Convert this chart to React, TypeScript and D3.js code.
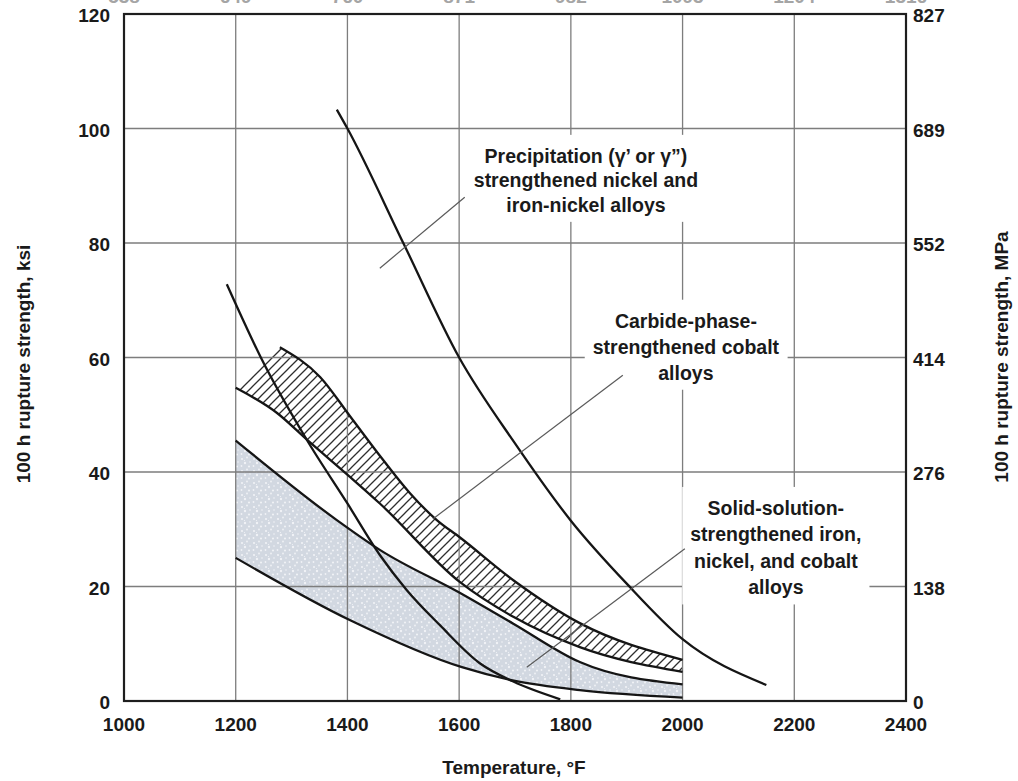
import React, { useEffect, useRef } from 'react';
import * as d3 from 'd3';

type Pt = [number, number];

// Temperature (°F) ticks, strength (ksi) ticks, MPa equivalents, °C equivalents (cut off at top)
const xTicks = [1000, 1200, 1400, 1600, 1800, 2000, 2200, 2400];
const yTicks = [0, 20, 40, 60, 80, 100, 120];
const mpaLabels = ['0', '138', '276', '414', '552', '689', '827'];
const celsiusLabels = ['538', '649', '760', '871', '982', '1093', '1204', '1316'];

// Curves: [°F, ksi]
const precipitationCurve: Pt[] = [[1381, 103.3], [1400, 100], [1500, 80], [1600, 60], [1700, 45], [1800, 31.5], [1900, 20.5], [2000, 10.8], [2150, 2.8]];
const steepCurve: Pt[] = [[1184, 72.8], [1245, 60], [1328, 45.5], [1400, 34.5], [1458, 25.5], [1506, 19.4], [1566, 13.2], [1637, 6.6], [1697, 3.4], [1781, 0.3]];
const carbideUpper: Pt[] = [[1279, 61.8], [1351, 56.6], [1405, 49.7], [1464, 42.1], [1512, 36.3], [1560, 31.6], [1601, 28.6], [1697, 21.1], [1816, 13.6], [2000, 7.2]];
const carbideLower: Pt[] = [[1200, 54.7], [1274, 50.3], [1328, 45.6], [1405, 39.1], [1458, 34.5], [1601, 20.8], [1697, 14.7], [1816, 9.4], [2000, 5.1]];
const solidUpper: Pt[] = [[1200, 45.5], [1381, 31.6], [1458, 26.4], [1601, 18.9], [1697, 13.5], [1816, 6.8], [2000, 2.9]];
const solidLower: Pt[] = [[1200, 25], [1405, 14.1], [1605, 5.9], [1700, 3.5], [1816, 1.9], [2000, 0.6]];

// Annotations: text lines with anchor (°F, ksi of first baseline) and leader lines
const precipitationText = ['Precipitation (\u03B3\u2019 or \u03B3\u201D)', 'strengthened nickel and', 'iron-nickel alloys'];
const carbideText = ['Carbide-phase-', 'strengthened cobalt', 'alloys'];
const solidText = ['Solid-solution-', 'strengthened iron,', 'nickel, and cobalt', 'alloys'];
const labelAnchors: Pt[] = [[1827, 94.0], [2006, 65.2], [2167, 32.5]];
const leaders: [Pt, Pt][] = [
  [[1610, 88], [1458, 75.6]],
  [[1893, 56.9], [1553, 31.8]],
  [[2004, 26.6], [1721, 5.9]],
];

export default function App() {
  const ref = useRef<SVGSVGElement>(null);

  useEffect(() => {
    const svg = d3.select(ref.current);
    svg.selectAll('*').remove();

    const x = d3.scaleLinear().domain([1000, 2400]).range([124, 906]);
    const y = d3.scaleLinear().domain([0, 120]).range([701, 14]);
    const font = "'Liberation Sans', Arial, Helvetica, sans-serif";

    const defs = svg.append('defs');
    const hatch = defs.append('pattern').attr('id', 'hatch')
      .attr('patternUnits', 'userSpaceOnUse').attr('width', 9).attr('height', 9);
    hatch.append('path').attr('d', 'M0,9 L9,0 M-3,3 L3,-3 M6,12 L12,6')
      .attr('stroke', '#2e2e2e').attr('stroke-width', 1.3).attr('fill', 'none');

    const stip = defs.append('pattern').attr('id', 'stipple')
      .attr('patternUnits', 'userSpaceOnUse').attr('width', 12).attr('height', 12);
    stip.append('rect').attr('width', 12).attr('height', 12).attr('fill', '#d2d8e1');
    const dots: [number, number, number][] = [[2, 3, 1.1], [7, 1.5, 0.9], [5, 7, 1.2], [10, 6, 0.8], [1.5, 10, 0.9], [9, 10.5, 1.1], [4.5, 4.5, 0.6]];
    dots.forEach(([cx, cy, r]) => stip.append('circle').attr('cx', cx).attr('cy', cy).attr('r', r).attr('fill', '#f0f2f6'));

    const line = d3.line<Pt>().x(d => x(d[0])).y(d => y(d[1])).curve(d3.curveMonotoneX);
    const rev = (pts: Pt[]) => (line(pts.slice().reverse()) as string).replace(/^M/, 'L');

    // Stippled region
    svg.append('path')
      .attr('d', (line(solidUpper) as string) + rev(solidLower) + 'Z')
      .attr('fill', 'url(#stipple)');

    // Hatched region
    svg.append('path')
      .attr('d', `M${x(carbideLower[0][0])},${y(carbideLower[0][1])}` + (line(carbideUpper) as string).replace(/^M/, 'L') + rev(carbideLower) + 'Z')
      .attr('fill', 'url(#hatch)');

    // Grid
    const grid = svg.append('g').attr('stroke', '#7d7d7d').attr('stroke-width', 1.3);
    xTicks.slice(1, -1).forEach(t => grid.append('line')
      .attr('x1', x(t)).attr('x2', x(t)).attr('y1', y(0)).attr('y2', y(120)));
    yTicks.slice(1, -1).forEach(t => grid.append('line')
      .attr('x1', x(1000)).attr('x2', x(2400)).attr('y1', y(t)).attr('y2', y(t)));

    // Text blocks with white masks
    const blocks = [precipitationText, carbideText, solidText];
    const spacing = [24.5, 26, 26.5];
    const maskLayer = svg.append('g');
    const curveLayer = svg.append('g');
    const textLayer = svg.append('g');

    [precipitationCurve, steepCurve, carbideUpper, carbideLower, solidUpper, solidLower].forEach(c => {
      curveLayer.append('path').attr('d', line(c) as string)
        .attr('fill', 'none').attr('stroke', '#151515').attr('stroke-width', 2.3);
    });

    leaders.forEach(([a, b]) => {
      curveLayer.append('line')
        .attr('x1', x(a[0])).attr('y1', y(a[1])).attr('x2', x(b[0])).attr('y2', y(b[1]))
        .attr('stroke', '#5a5a5a').attr('stroke-width', 1.2);
    });

    blocks.forEach((lines, i) => {
      const [fx, ky] = labelAnchors[i];
      const t = textLayer.append('text')
        .attr('x', x(fx)).attr('y', y(ky))
        .attr('text-anchor', 'middle')
        .attr('font-family', font).attr('font-size', 19.5).attr('font-weight', 'bold')
        .attr('fill', '#1a1a1a');
      lines.forEach((s, j) => t.append('tspan').attr('x', x(fx)).attr('dy', j === 0 ? 0 : spacing[i]).text(s));
      const bb = (t.node() as SVGTextElement).getBBox();
      maskLayer.append('rect')
        .attr('x', bb.x - 8).attr('y', bb.y - 10).attr('width', bb.width + 16).attr('height', bb.height + 16)
        .attr('fill', '#fff');
    });

    // Frame
    svg.append('rect').attr('x', x(1000)).attr('y', y(120))
      .attr('width', x(2400) - x(1000)).attr('height', y(0) - y(120))
      .attr('fill', 'none').attr('stroke', '#1e1e1e').attr('stroke-width', 2.2);

    const labelStyle = (sel: any) => sel.attr('font-family', font).attr('font-size', 19).attr('font-weight', 'bold').attr('fill', '#1a1a1a');

    // Left ticks
    yTicks.forEach(t => labelStyle(svg.append('text')
      .attr('x', 110).attr('y', y(t) + 3).attr('text-anchor', 'end').attr('dominant-baseline', 'middle').text(String(t))));
    // Right ticks (MPa)
    yTicks.forEach((t, i) => labelStyle(svg.append('text')
      .attr('x', 913).attr('y', y(t) + 3).attr('text-anchor', 'start').attr('dominant-baseline', 'middle').text(mpaLabels[i])));
    // Bottom ticks
    xTicks.forEach(t => labelStyle(svg.append('text')
      .attr('x', x(t)).attr('y', 731).attr('text-anchor', 'middle').text(String(t))));
    // Top ticks (°C), cut off at the top edge as in the scanned original
    xTicks.forEach((t, i) => labelStyle(svg.append('text')
      .attr('x', x(t)).attr('y', 3).attr('text-anchor', 'middle').text(celsiusLabels[i])).attr('fill', '#a5a5a5'));

    // Axis titles
    labelStyle(svg.append('text').attr('transform', 'translate(30,364) rotate(-90)')
      .attr('text-anchor', 'middle').text('100 h rupture strength, ksi'));
    labelStyle(svg.append('text').attr('transform', 'translate(1008,357) rotate(-90)')
      .attr('text-anchor', 'middle').text('100 h rupture strength, MPa'));
    labelStyle(svg.append('text').attr('x', 514).attr('y', 774)
      .attr('text-anchor', 'middle').text('Temperature, \u00B0F'));
  }, []);

  return (
    <svg ref={ref} width={1018} height={781}
      style={{ position: 'absolute', left: 0, top: 0, background: '#fff' }} />
  );
}
